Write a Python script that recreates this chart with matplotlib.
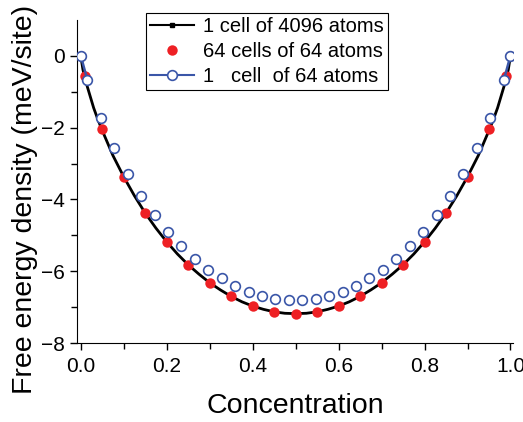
import matplotlib
matplotlib.use("Agg")
import matplotlib.pyplot as plt

plt.rcParams['font.family'] = ['Liberation Sans', 'DejaVu Sans']

# 1 cell of 4096 atoms (curva continua)
big_x = [0, 0.005, 0.01, 0.02, 0.03, 0.04, 0.05, 0.075, 0.1, 0.125, 0.15, 0.175, 0.2,
         0.225, 0.25, 0.275, 0.3, 0.325, 0.35, 0.375, 0.4, 0.425, 0.45, 0.475, 0.5,
         0.525, 0.55, 0.575, 0.6, 0.625, 0.65, 0.675, 0.7, 0.725, 0.75, 0.775, 0.8,
         0.825, 0.85, 0.875, 0.9, 0.925, 0.95, 0.96, 0.97, 0.98, 0.99, 0.995, 1.0]
big_y = [0, -0.38, -0.65, -1.05, -1.45, -1.78, -2.08, -2.78, -3.37, -3.90, -4.38, -4.80, -5.18,
         -5.52, -5.82, -6.08, -6.32, -6.52, -6.70, -6.85, -6.97, -7.06, -7.13, -7.17, -7.18,
         -7.17, -7.13, -7.06, -6.97, -6.85, -6.70, -6.52, -6.32, -6.08, -5.82, -5.52, -5.18,
         -4.80, -4.38, -3.90, -3.37, -2.78, -2.08, -1.78, -1.45, -1.05, -0.65, -0.38, 0]

# 64 cells of 64 atoms
cells_x = [0, 0.01, 0.05, 0.1, 0.15, 0.2, 0.25, 0.3, 0.35, 0.4, 0.45, 0.5,
           0.55, 0.6, 0.65, 0.7, 0.75, 0.8, 0.85, 0.9, 0.95, 0.99, 1.0]
cells_y = [0, -0.56, -2.05, -3.37, -4.38, -5.18, -5.82, -6.32, -6.70, -6.96, -7.13, -7.18,
           -7.13, -6.96, -6.70, -6.32, -5.82, -5.18, -4.38, -3.37, -2.05, -0.56, 0]

# 1 cell of 64 atoms
small_x = [0, 1/64, 3/64, 5/64, 7/64, 9/64, 11/64, 13/64, 15/64, 17/64, 19/64, 21/64,
           23/64, 25/64, 27/64, 29/64, 31/64, 33/64, 35/64, 37/64, 39/64, 41/64, 43/64,
           45/64, 47/64, 49/64, 51/64, 53/64, 55/64, 57/64, 59/64, 61/64, 63/64, 1.0]
small_y = [0, -0.68, -1.73, -2.57, -3.30, -3.90, -4.43, -4.90, -5.31, -5.65, -5.96, -6.20,
           -6.40, -6.57, -6.70, -6.78, -6.81, -6.81, -6.78, -6.70, -6.57, -6.40, -6.20,
           -5.96, -5.65, -5.31, -4.90, -4.43, -3.90, -3.30, -2.57, -1.73, -0.68, 0]

red = '#ee2024'
blue = '#3a56a8'

fig = plt.figure(figsize=(5.23, 4.22), dpi=100)
ax = fig.add_axes([0.147, 0.187, 0.834, 0.766])

ax.plot(big_x, big_y, '-', color='black', lw=2, zorder=2)
ax.plot(cells_x, cells_y, 'o', color=red, ms=7.5, mec='none', zorder=3)
ax.plot(small_x, small_y, 'o', mfc='white', mec=blue, mew=1.2, ms=7, ls='none', zorder=4)
# la linea azul solo se ve en los extremos
ax.plot(small_x[:2], small_y[:2], '-', color=blue, lw=1.8, zorder=3.5)
ax.plot(small_x[-2:], small_y[-2:], '-', color=blue, lw=1.8, zorder=3.5)

# entradas de la leyenda
h1, = ax.plot([], [], '-s', color='black', lw=1.5, ms=2.5)
h2, = ax.plot([], [], 'o', color=red, ms=7.5, mec='none')
h3, = ax.plot([], [], '-o', color=blue, lw=1.5, mfc='white', mec=blue, mew=1.2, ms=7)
leg = fig.legend([h1, h2, h3], ["1 cell of 4096 atoms", "64 cells of 64 atoms", "1   cell  of 64 atoms"],
                 loc='upper left', bbox_to_anchor=(145.7 / 523, 1 - 13.3 / 422),
                 borderaxespad=0, fontsize=14.5, fancybox=False, framealpha=1,
                 handlelength=2.2, handletextpad=0.45, borderpad=0.2, labelspacing=0.3)
leg.get_frame().set_edgecolor('black')
leg.get_frame().set_linewidth(0.8)

ax.set_xlim(-0.009, 1.006)
ax.set_ylim(-8, 1)
ax.set_xticks([0, 0.2, 0.4, 0.6, 0.8, 1.0])
ax.set_xticks([0.1, 0.3, 0.5, 0.7, 0.9], minor=True)
ax.set_xticklabels(["0.0", "0.2", "0.4", "0.6", "0.8", "1.0"])
ax.set_yticks([0, -2, -4, -6, -8])
ax.set_yticks([-1, -3, -5, -7], minor=True)
ax.tick_params(which='both', direction='out', labelsize=15, width=1)
ax.tick_params(which='major', length=5)
ax.tick_params(which='minor', length=4)
ax.tick_params(axis='x', pad=5)
ax.spines['top'].set_visible(False)
ax.spines['right'].set_visible(False)
ax.set_xlabel("Concentration", fontsize=20.5, labelpad=12)
ax.set_ylabel("Free energy density (meV/site)", fontsize=20.5)
ax.yaxis.set_label_coords(-0.09, 0.445)

fig.savefig("out.png", dpi=100)
